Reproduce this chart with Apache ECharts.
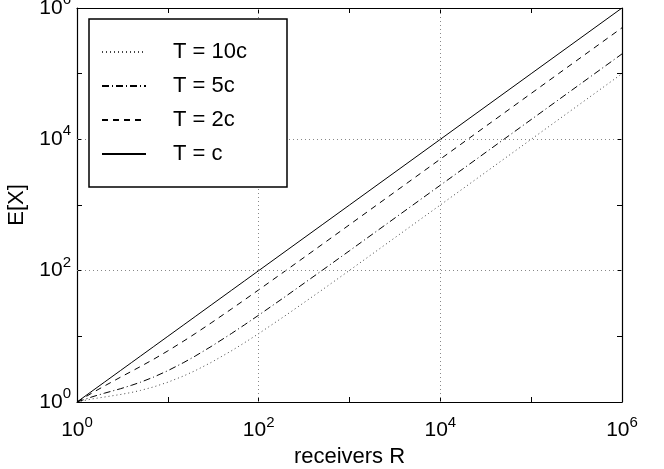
<!DOCTYPE html>
<html>
<head>
<meta charset="utf-8">
<script src="https://cdn.jsdelivr.net/npm/echarts@6/dist/echarts.min.js"></script>
<style>
  html, body { margin: 0; padding: 0; background: #fff; }
  #chart { width: 664px; height: 469px; }
</style>
</head>
<body>
<div id="chart"></div>
<script>
// receivers R (x values)
const receiversR = [1, 1.5, 2, 3, 4, 5, 7, 10, 15, 20, 30, 50, 70, 100, 200, 500, 1000, 1e4, 1e5, 1e6];
// E[X] for each timer setting
const seriesTc   = [1, 1.5, 2, 3, 4, 5, 7, 10, 15, 20, 30, 50, 70, 100, 200, 500, 1000, 1e4, 1e5, 1e6];
const seriesT2c  = [1, 1.40, 1.75, 2.38, 2.94, 3.47, 4.49, 6.0, 8.5, 11, 16, 26, 36, 51, 101, 251, 501, 5001, 50001, 500001];
const seriesT5c  = [1, 1.21, 1.36, 1.59, 1.80, 2.0, 2.4, 3.0, 4.0, 5.0, 7.0, 11, 15, 21, 41, 101, 201, 2001, 20001, 200001];
const seriesT10c = [1, 1.12, 1.19, 1.30, 1.40, 1.5, 1.7, 2.0, 2.5, 3.0, 4.0, 6.0, 8.0, 11, 21, 51, 101, 1001, 10001, 100001];
const seriesNames = ['T = 10c', 'T = 5c', 'T = 2c', 'T = c'];
// labelled decades (exponents) and grid line positions
const labelExps = [0, 2, 4, 6];
const gridValues = [100, 10000];

const FONT = 'Liberation Sans, Arial, Helvetica, sans-serif';

function pairs(ys) { return receiversR.map((x, i) => [x, ys[i]]); }

function expLabel(v) {
  const e = Math.round(Math.log10(v));
  if (labelExps.indexOf(e) < 0) return '';
  return '{b|10}{s|' + e + '}';
}
const richLab = {
  b: { fontSize: 21, fontFamily: FONT, color: '#000' },
  s: { fontSize: 15, fontFamily: FONT, color: '#000', padding: [0, 0, 16, 0] }
};

const chart = echarts.init(document.getElementById('chart'), null, { renderer: 'canvas' });

const frameLine = { show: true, lineStyle: { color: '#000', width: 1.2 } };
const innerTick = { show: true, inside: true, length: 5, lineStyle: { color: '#000', width: 1 } };

function mkSeries(name, ys, type) {
  return {
    name: name, type: 'line', data: pairs(ys), symbol: 'none', showSymbol: false,
    xAxisIndex: 0, yAxisIndex: 0, animation: false,
    itemStyle: { color: '#000' },
    lineStyle: { color: '#000', width: 1, type: type }
  };
}

const s10 = mkSeries(seriesNames[0], seriesT10c, [1, 3]);
s10.lineStyle.color = '#444';
const s5 = mkSeries(seriesNames[1], seriesT5c, [7, 3, 1, 3]);
const s2 = mkSeries(seriesNames[2], seriesT2c, [6, 5]);
const s1 = mkSeries(seriesNames[3], seriesTc, 'solid');
s10.markLine = {
  silent: true, symbol: 'none', animation: false,
  label: { show: false },
  lineStyle: { color: '#888', width: 1, type: [1, 3] },
  data: gridValues.map(v => ({ xAxis: v })).concat(gridValues.map(v => ({ yAxis: v })))
};

const option = {
  animation: false,
  backgroundColor: '#fff',
  grid: { left: 77, right: 42, top: 8, bottom: 67, containLabel: false, outerBoundsMode: 'none' },
  xAxis: [
    {
      type: 'log', logBase: 10, min: 1, max: 1e6, splitNumber: 6, position: 'bottom',
      axisLine: frameLine, axisTick: innerTick, splitLine: { show: false },
      axisLabel: { formatter: expLabel, rich: richLab, margin: 13, showMinLabel: true, showMaxLabel: true },
      name: 'receivers R', nameLocation: 'middle', nameGap: 37,
      nameTextStyle: { fontSize: 22, fontFamily: FONT, color: '#000' }
    },
    {
      type: 'log', logBase: 10, min: 1, max: 1e6, splitNumber: 6, position: 'top',
      axisLine: frameLine, axisTick: innerTick, splitLine: { show: false }, axisLabel: { show: false }
    }
  ],
  yAxis: [
    {
      type: 'log', logBase: 10, min: 1, max: 1e6, splitNumber: 6, position: 'left',
      axisLine: frameLine, axisTick: innerTick, splitLine: { show: false },
      axisLabel: { formatter: expLabel, rich: richLab, margin: 6, showMinLabel: true, showMaxLabel: true },
      name: 'E[X]', nameLocation: 'middle', nameGap: 41, nameRotate: 90,
      nameTextStyle: { fontSize: 22, fontFamily: FONT, color: '#000' }
    },
    {
      type: 'log', logBase: 10, min: 1, max: 1e6, splitNumber: 6, position: 'right',
      axisLine: frameLine, axisTick: innerTick, splitLine: { show: false }, axisLabel: { show: false }
    }
  ],
  graphic: [
    {
      type: 'rect', z: 10, silent: true,
      shape: { x: 89, y: 19, width: 198, height: 168 },
      style: { fill: '#fff', stroke: '#000', lineWidth: 1.5 }
    }
  ],
  legend: {
    z: 20, orient: 'vertical', left: 101, top: 41, padding: 0,
    itemWidth: 44, itemHeight: 14, itemGap: 12,
    data: seriesNames,
    itemStyle: { opacity: 0 },
    textStyle: { fontSize: 22, fontFamily: FONT, color: '#000', padding: [0, 0, 0, 22] },
    selectedMode: false
  },
  series: [s10, s5, s2, s1]
};
chart.setOption(option);
</script>
</body>
</html>
